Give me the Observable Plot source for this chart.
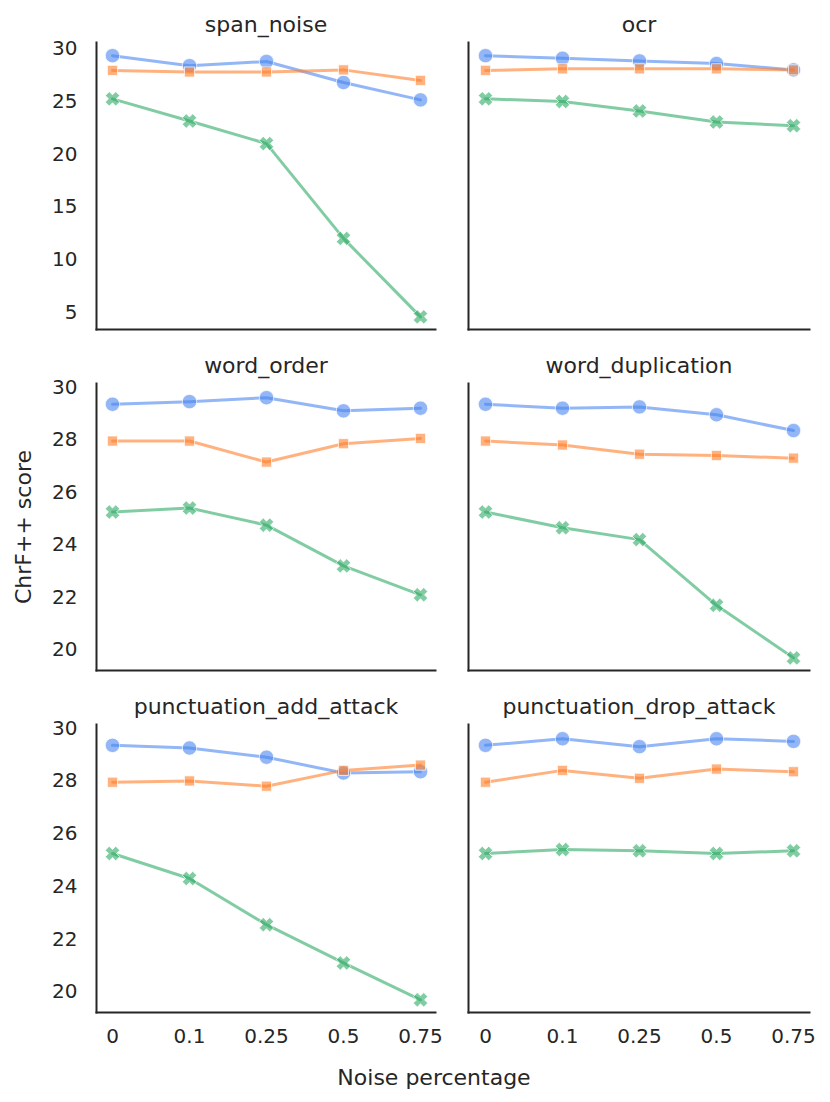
<!DOCTYPE html>
<html><head><meta charset="utf-8">
<script src="https://cdn.jsdelivr.net/npm/d3@7"></script>
<script src="https://cdn.jsdelivr.net/npm/@observablehq/plot@0.6"></script>
<style>
body{margin:0;background:#fff;}
#fig{position:relative;width:830px;height:1102px;font-family:"DejaVu Sans",sans-serif;color:#262626;background:#fff;}
.panel{position:absolute;}
.lab{position:absolute;font-size:22px;white-space:nowrap;color:#262626;}
</style></head><body>
<div id="fig"></div>
<script>
// ---- data ----
const noiseLevels = ["0", "0.1", "0.25", "0.5", "0.75"];
const seriesNames = ["run_1", "run_2", "run_3"];
const noiseTypes = ["span_noise", "ocr", "word_order", "word_duplication", "punctuation_add_attack", "punctuation_drop_attack"];

const spanNoise1 = [29.35, 28.4, 28.8, 26.8, 25.15];
const spanNoise2 = [27.95, 27.8, 27.8, 28.0, 27.0];
const spanNoise3 = [25.25, 23.15, 21.0, 12.0, 4.55];

const ocr1 = [29.35, 29.1, 28.85, 28.6, 28.0];
const ocr2 = [27.95, 28.1, 28.1, 28.1, 28.0];
const ocr3 = [25.25, 25.0, 24.1, 23.05, 22.7];

const wordOrder1 = [29.35, 29.45, 29.6, 29.1, 29.2];
const wordOrder2 = [27.95, 27.95, 27.15, 27.85, 28.05];
const wordOrder3 = [25.25, 25.4, 24.75, 23.2, 22.1];

const wordDup1 = [29.35, 29.2, 29.25, 28.95, 28.35];
const wordDup2 = [27.95, 27.8, 27.45, 27.4, 27.3];
const wordDup3 = [25.25, 24.65, 24.2, 21.7, 19.7];

const punctAdd1 = [29.35, 29.25, 28.9, 28.3, 28.35];
const punctAdd2 = [27.95, 28.0, 27.8, 28.4, 28.6];
const punctAdd3 = [25.25, 24.3, 22.55, 21.1, 19.7];

const punctDrop1 = [29.35, 29.6, 29.3, 29.6, 29.5];
const punctDrop2 = [27.95, 28.4, 28.1, 28.45, 28.35];
const punctDrop3 = [25.25, 25.4, 25.35, 25.25, 25.35];

const yTicksTop = [5, 10, 15, 20, 25, 30];
const yTicksOther = [20, 22, 24, 26, 28, 30];

// ---- style ----
const colors = ["#4a86f0", "#ff7f2a", "#2eaa66"];
const symbolFilledX = {
  draw(context, size) {
    const r = Math.sqrt(size / Math.PI);
    const a = r, w = r * 0.38;
    const pts = [[w,-a],[w,-w],[a,-w],[a,w],[w,w],[w,a],[-w,a],[-w,w],[-a,w],[-a,-w],[-w,-w],[-w,-a]];
    const c = Math.SQRT1_2;
    pts.forEach(([x, y], i) => {
      const X = (x - y) * c, Y = (x + y) * c;
      i ? context.lineTo(X, Y) : context.moveTo(X, Y);
    });
    context.closePath();
  }
};
const symbols = ["circle", "square", symbolFilledX];
const radii = [7.2, 5.7, 7.4];

const panelValues = [
  [spanNoise1, spanNoise2, spanNoise3],
  [ocr1, ocr2, ocr3],
  [wordOrder1, wordOrder2, wordOrder3],
  [wordDup1, wordDup2, wordDup3],
  [punctAdd1, punctAdd2, punctAdd3],
  [punctDrop1, punctDrop2, punctDrop3]
];

const rows = [
  {top: 0,   mt: 42, fh: 287, mb: 6,  domain: [3.35, 30.6],  ticks: yTicksTop},
  {top: 340, mt: 43, fh: 287, mb: 5,  domain: [19.22, 30.14], ticks: yTicksOther},
  {top: 680, mt: 44, fh: 288, mb: 45, domain: [19.22, 30.14], ticks: yTicksOther}
];
const cols = [
  {left: 0,   width: 440, ml: 96, mr: 5},
  {left: 440, width: 390, ml: 28, mr: 21}
];

const fig = document.getElementById("fig");

noiseTypes.forEach((name, i) => {
  const r = rows[Math.floor(i / 2)], c = cols[i % 2];
  const isBottom = Math.floor(i / 2) === 2, isLeft = i % 2 === 0;
  const marks = [
    Plot.frame({anchor: "left", stroke: "#262626", strokeWidth: 2}),
    Plot.frame({anchor: "bottom", stroke: "#262626", strokeWidth: 2}),
    Plot.text([name], {frameAnchor: "top", dy: -11, lineAnchor: "bottom", fontSize: 22, fill: "#262626"})
  ];
  panelValues[i].forEach((vals, s) => {
    const data = vals.map((v, k) => ({level: noiseLevels[k], score: v, series: seriesNames[s]}));
    marks.push(Plot.line(data, {x: "level", y: "score", stroke: colors[s], strokeWidth: 3, strokeOpacity: 0.6}));
    marks.push(Plot.dot(data, {x: "level", y: "score", symbol: symbols[s], r: radii[s], fill: colors[s], fillOpacity: 0.6, stroke: "white", strokeWidth: 1, strokeOpacity: 0.7}));
  });
  const chart = Plot.plot({
    width: c.width,
    height: r.mt + r.fh + r.mb,
    marginLeft: c.ml, marginRight: c.mr, marginTop: r.mt, marginBottom: r.mb,
    x: {type: "point", domain: noiseLevels, padding: 0.2, axis: isBottom ? "bottom" : null, tickSize: 0, tickPadding: 16, label: null},
    y: {domain: r.domain, ticks: r.ticks, axis: isLeft ? "left" : null, tickSize: 0, tickPadding: 19, label: null},
    style: {fontFamily: "DejaVu Sans", fontSize: "20px", color: "#262626", background: "transparent", overflow: "visible"},
    marks
  });
  const div = document.createElement("div");
  div.className = "panel";
  div.style.left = c.left + "px";
  div.style.top = r.top + "px";
  div.appendChild(chart);
  fig.appendChild(div);
});

const xl = document.createElement("div");
xl.className = "lab";
xl.textContent = "Noise percentage";
xl.style.left = "434px"; xl.style.top = "1077px";
xl.style.transform = "translate(-50%,-50%)";
fig.appendChild(xl);

const yl = document.createElement("div");
yl.className = "lab";
yl.textContent = "ChrF++ score";
yl.style.left = "23px"; yl.style.top = "527px";
yl.style.transform = "translate(-50%,-50%) rotate(-90deg)";
fig.appendChild(yl);
</script>
</body></html>
